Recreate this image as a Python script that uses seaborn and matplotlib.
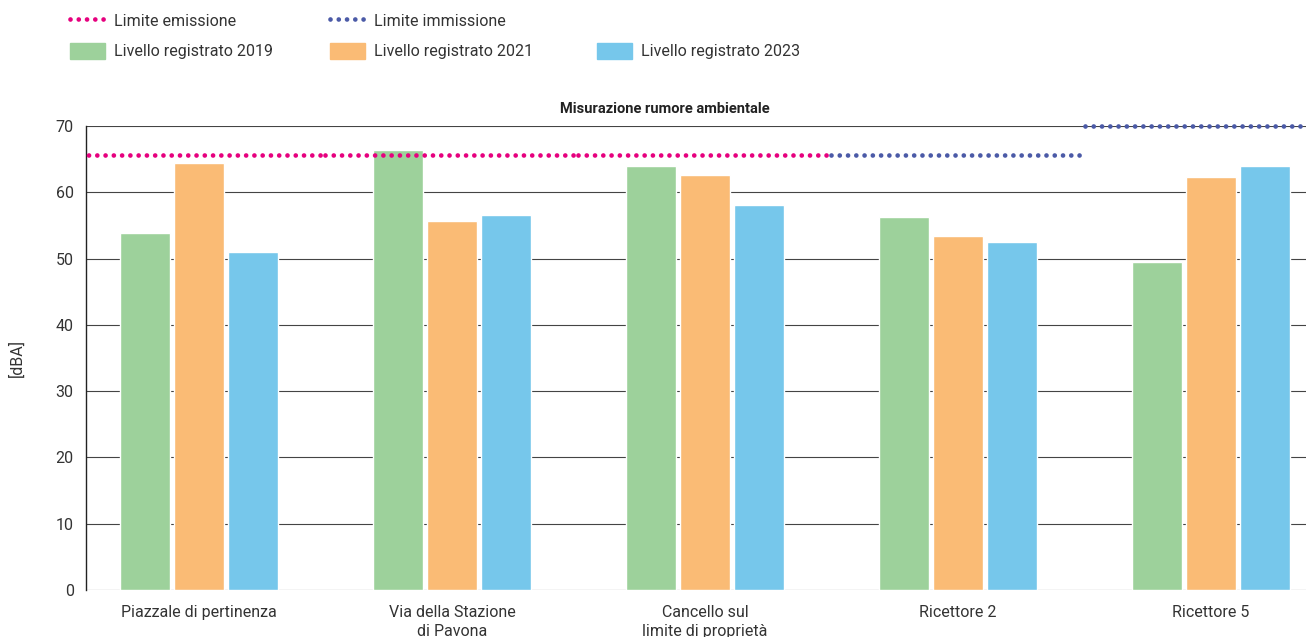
import pandas as pd
import matplotlib.pyplot as plt
import seaborn as sns
from matplotlib.lines import Line2D
from matplotlib.patches import Patch

# data
categories = ["Piazzale di pertinenza", "Via della Stazione\ndi Pavona",
              "Cancello sul\nlimite di proprietà", "Ricettore 2", "Ricettore 5"]
years = ["Livello registrato 2019", "Livello registrato 2021", "Livello registrato 2023"]
level_2019 = [53.9, 66.4, 64.0, 56.3, 49.5]
level_2021 = [64.4, 55.7, 62.6, 53.4, 62.3]
level_2023 = [51.0, 56.6, 58.1, 52.5, 64.0]
emission_limit = [65.6, 65.6, 65.6]     # first three sites
immission_limit = [65.6, 70.0]          # Ricettore 2, Ricettore 5
y_ticks = [0, 10, 20, 30, 40, 50, 60, 70]

colors = ["#9dd19b", "#fabb75", "#76c7eb"]
pink = "#e6007e"
navy = "#4b5aa7"
text_col = "#333333"

df = pd.DataFrame({
    "site": categories * 3,
    "year": [y for y in years for _ in categories],
    "value": level_2019 + level_2021 + level_2023,
})

sns.set_theme(style="white")
plt.rcParams["font.family"] = ["Roboto", "DejaVu Sans"]
plt.rcParams["text.color"] = text_col

fig = plt.figure(figsize=(13.06, 6.37), dpi=100)
ax = fig.add_axes([0.066, 0.074, 0.934, 0.728])

for t in y_ticks:
    ax.axhline(t, color="#444444", lw=0.8, zorder=0)

sns.barplot(data=df, x="site", y="value", hue="year", palette=colors,
            width=0.64, gap=0.075, saturation=1, legend=False, ax=ax, zorder=2)

dot = dict(lw=3.4, linestyle=(0, (0.001, 1.75)), dash_capstyle="round", zorder=3)
for i, v in enumerate(emission_limit):
    ax.plot([i - 0.5, i + 0.5], [v, v], color=pink, **dot)
ax.plot([2.5, 3.5], [immission_limit[0]] * 2, color=navy, **dot)
ax.plot([3.5, 4.6], [immission_limit[1]] * 2, color=navy, clip_on=False, **dot)

ax.set_xlim(-0.445, 4.375)
ax.set_ylim(0, 70)
ax.set_yticks(y_ticks)
ax.set_xlabel("")
ax.set_ylabel("[dBA]", fontsize=11.5, color=text_col, labelpad=22)
ax.tick_params(axis="both", labelsize=11.5, colors=text_col, length=0, pad=9)
ax.tick_params(axis="x", pad=11)
for lab in ax.get_xticklabels():
    lab.set_linespacing(1.3)
for s in ["top", "right", "bottom"]:
    ax.spines[s].set_visible(False)
ax.spines["left"].set_color("#222222")
ax.spines["left"].set_linewidth(1.0)

fig.text(0.509, 0.822, "Misurazione rumore ambientale", ha="center",
         fontsize=10.5, fontweight="bold", color="#222222")

# legend: three columns pinned at the reference positions
blank = Patch(color="none")
legend_cols = [
    ([Line2D([], [], color=pink, **dot), Patch(color=colors[0])],
     ["Limite emissione", years[0]], 0.0536),
    ([Line2D([], [], color=navy, **dot), Patch(color=colors[1])],
     ["Limite immissione", years[1]], 0.2527),
    ([blank, Patch(color=colors[2])], [" ", years[2]], 0.457),
]
for hs, ls, x in legend_cols:
    fig.legend(hs, ls, loc="upper left", bbox_to_anchor=(x, 0.980),
               frameon=False, fontsize=11.5, handlelength=2.2,
               handleheight=1.15, handletextpad=0.55, labelspacing=0.85,
               borderpad=0, borderaxespad=0)

fig.savefig("out.png", dpi=100)
